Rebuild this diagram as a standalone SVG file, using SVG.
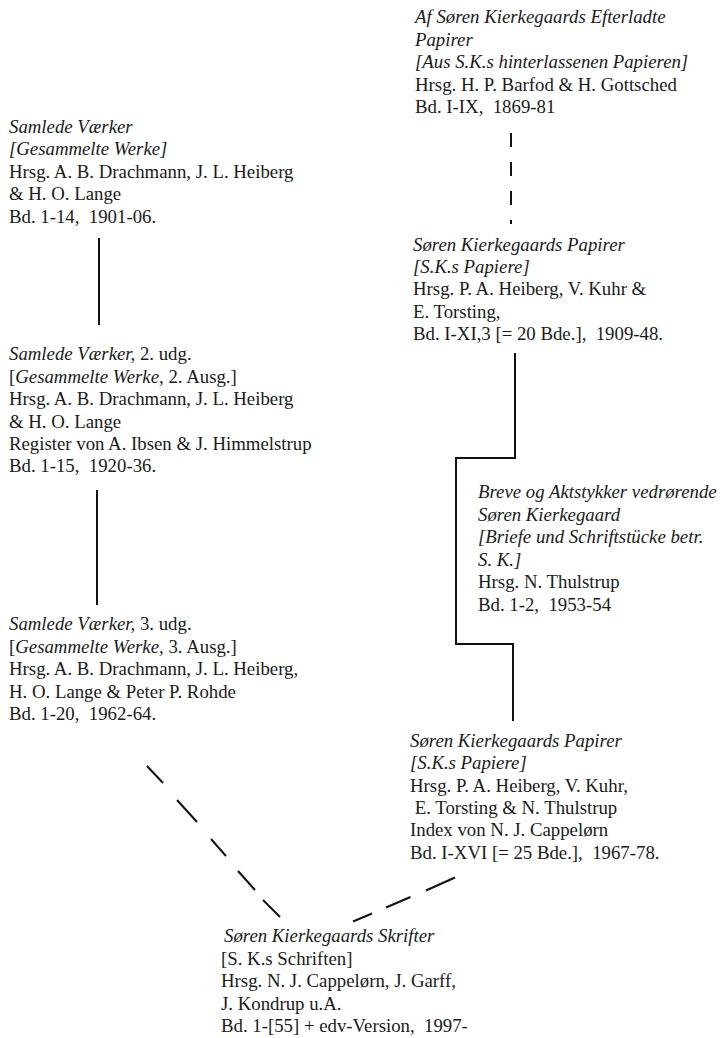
<svg xmlns="http://www.w3.org/2000/svg" width="724" height="1038" viewBox="0 0 724 1038">
<style>
text{font-family:"Liberation Serif","Times New Roman",serif;font-size:18.8px;fill:#1a1a1a;white-space:pre}
.i{font-style:italic}
.c{stroke:#111;stroke-width:2;fill:none}
</style>
<rect width="724" height="1038" fill="#fff"/>
<g id="connectors" class="c">
<line x1="99" y1="238" x2="99" y2="325"/>
<line x1="97" y1="490" x2="97" y2="605"/>
<line x1="511" y1="133" x2="511" y2="224" stroke-dasharray="14 15"/>
<polyline points="515,353 515,458 456,458 456,644 513,644 513,721"/>
<line x1="147" y1="766" x2="163" y2="783"/>
<line x1="177" y1="800" x2="197" y2="822"/>
<line x1="211" y1="839" x2="226" y2="856"/>
<line x1="238" y1="871" x2="255" y2="890"/>
<line x1="263" y1="900" x2="280" y2="917"/>
<line x1="353" y1="921.5" x2="372" y2="913.5"/>
<line x1="386" y1="907.5" x2="410.5" y2="897"/>
<line x1="426" y1="890.5" x2="455" y2="877.5"/>
</g>
<g id="sv1">
<text x="9" y="132.5" class="i">Samlede Værker</text>
<text x="9" y="155" class="i">[Gesammelte Werke]</text>
<text x="9" y="177.5">Hrsg. A. B. Drachmann, J. L. Heiberg</text>
<text x="9" y="200">&amp; H. O. Lange</text>
<text x="9" y="222.5">Bd. 1-14,  1901-06.</text>
</g>
<g id="sv2">
<text x="9" y="360"><tspan class="i">Samlede Værker,</tspan> 2. udg.</text>
<text x="9" y="382.5">[<tspan class="i">Gesammelte Werke,</tspan> 2. Ausg.]</text>
<text x="9" y="405">Hrsg. A. B. Drachmann, J. L. Heiberg</text>
<text x="9" y="427.5">&amp; H. O. Lange</text>
<text x="9" y="450">Register von A. Ibsen &amp; J. Himmelstrup</text>
<text x="9" y="472">Bd. 1-15,  1920-36.</text>
</g>
<g id="sv3">
<text x="9" y="630"><tspan class="i">Samlede Værker,</tspan> 3. udg.</text>
<text x="9" y="652.5">[<tspan class="i">Gesammelte Werke,</tspan> 3. Ausg.]</text>
<text x="9" y="675">Hrsg. A. B. Drachmann, J. L. Heiberg,</text>
<text x="9" y="697.5">H. O. Lange &amp; Peter P. Rohde</text>
<text x="9" y="720">Bd. 1-20,  1962-64.</text>
</g>
<g id="efterladte">
<text x="415" y="23.3" class="i">Af Søren Kierkegaards Efterladte</text>
<text x="415" y="45.5" class="i">Papirer</text>
<text x="415" y="68" class="i">[Aus S.K.s hinterlassenen Papieren]</text>
<text x="415" y="90.5">Hrsg. H. P. Barfod &amp; H. Gottsched</text>
<text x="415" y="113">Bd. I-IX,  1869-81</text>
</g>
<g id="papirer1">
<text x="413" y="250.7" class="i">Søren Kierkegaards Papirer</text>
<text x="413" y="273" class="i">[S.K.s Papiere]</text>
<text x="413" y="295.3">Hrsg. P. A. Heiberg, V. Kuhr &amp;</text>
<text x="413" y="317.6">E. Torsting,</text>
<text x="413" y="340">Bd. I-XI,3 [= 20 Bde.],  1909-48.</text>
</g>
<g id="breve">
<text x="478" y="498" class="i">Breve og Aktstykker vedrørende</text>
<text x="478" y="520.5" class="i">Søren Kierkegaard</text>
<text x="478" y="543" class="i">[Briefe und Schriftstücke betr.</text>
<text x="478" y="565.5" class="i">S. K.]</text>
<text x="478" y="588">Hrsg. N. Thulstrup</text>
<text x="478" y="610.5">Bd. 1-2,  1953-54</text>
</g>
<g id="papirer2">
<text x="410" y="747" class="i">Søren Kierkegaards Papirer</text>
<text x="410" y="769.3" class="i">[S.K.s Papiere]</text>
<text x="410" y="791.6">Hrsg. P. A. Heiberg, V. Kuhr,</text>
<text x="410" y="814"> E. Torsting &amp; N. Thulstrup</text>
<text x="410" y="836.3">Index von N. J. Cappelørn</text>
<text x="410" y="858.6">Bd. I-XVI [= 25 Bde.],  1967-78.</text>
</g>
<g id="skrifter">
<text x="224" y="942" class="i">Søren Kierkegaards Skrifter</text>
<text x="221" y="964.5">[S. K.s Schriften]</text>
<text x="221" y="987">Hrsg. N. J. Cappelørn, J. Garff,</text>
<text x="221" y="1009.5">J. Kondrup u.A.</text>
<text x="221" y="1032">Bd. 1-[55] + edv-Version,  1997-</text>
</g>
</svg>
